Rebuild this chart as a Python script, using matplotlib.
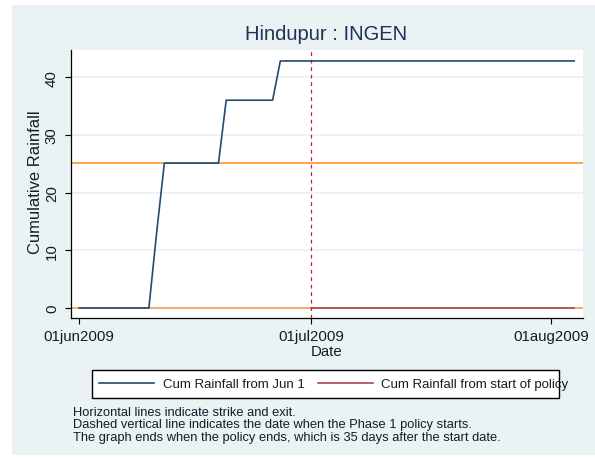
import numpy as np
import matplotlib
matplotlib.use("Agg")
import matplotlib.pyplot as plt
import matplotlib.dates as mdates
from matplotlib.patches import Rectangle

plt.rcParams['font.family'] = ['Liberation Sans', 'DejaVu Sans']

# data (corner points of the cumulative series)
rain_dates = ["2009-06-01", "2009-06-10", "2009-06-11", "2009-06-12", "2009-06-19",
              "2009-06-20", "2009-06-26", "2009-06-27", "2009-08-04"]
rain_cum = [0, 0, 13, 25.1, 25.1, 36, 36, 42.8, 42.8]

policy_dates = ["2009-07-01", "2009-08-04"]
policy_cum = [0, 0]

policy_start = "2009-07-01"
strike = 25.1
exit_level = 0

xtick_dates = ["2009-06-01", "2009-07-01", "2009-08-01"]
xtick_labels = ["01jun2009", "01jul2009", "01aug2009"]
yticks = [0, 10, 20, 30, 40]

notes = ["Horizontal lines indicate strike and exit.",
         "Dashed vertical line indicates the date when the Phase 1 policy starts.",
         "The graph ends when the policy ends, which is 35 days after the start date."]

bg = "#EAF2F3"
navy = "#22496F"
maroon = "#A5494E"
orange = "#FF8A14"
txt = "#141C2C"

to_dt = lambda lst: np.array(lst, dtype="datetime64[D]")

W, H = 595, 460
fig = plt.figure(figsize=(W / 100, H / 100), dpi=100)
fig.patch.set_facecolor("white")
fig.patches.append(Rectangle((12 / W, 4 / H), 1 - 12 / W, (456 - 6) / H,
                             transform=fig.transFigure, facecolor=bg,
                             edgecolor="none", zorder=-10))

ax = fig.add_axes([70.7 / W, 1 - 319.3 / H, 512 / W, 268.3 / H])
ax.set_facecolor("white")

for y in yticks:
    ax.axhline(y, color=bg, lw=1.3, zorder=0)

ax.axhline(strike, color=orange, lw=1.1, zorder=1)
ax.axhline(exit_level, color="#FA9A3C", lw=1.1, zorder=1)
ax.axvline(to_dt([policy_start])[0], color="#D8143A", lw=0.9, ls=(0, (3, 3)), zorder=2)

l1, = ax.plot(to_dt(rain_dates), rain_cum, color=navy, lw=1.2, zorder=3)
l2, = ax.plot(to_dt(policy_dates), policy_cum, color=maroon, lw=1.2, zorder=3)

d0 = to_dt(["2009-06-01"])[0]
ax.set_xlim(mdates.date2num(d0) - 1.11, mdates.date2num(d0) + 65.1)
ax.set_ylim(-1.79, 44.7)

ax.set_xticks(mdates.date2num(to_dt(xtick_dates)))
ax.set_xticklabels(xtick_labels)
ax.set_yticks(yticks)
ax.set_yticklabels([str(v) for v in yticks], rotation=90, va="center")
ax.tick_params(axis="both", direction="out", length=4, width=0.8, colors="black",
               labelcolor=txt, labelsize=10.8)
ax.tick_params(axis="x", pad=4)
ax.tick_params(axis="y", pad=4.5)

for s in ["top", "right"]:
    ax.spines[s].set_visible(False)
for s in ["left", "bottom"]:
    ax.spines[s].set_linewidth(0.9)
    ax.spines[s].set_color("black")

ax.set_xlabel("Date", fontsize=10.8, color=txt, va="center")
ax.xaxis.set_label_coords(0.5, -0.1208)
ax.set_ylabel("Cumulative Rainfall", fontsize=11.9, color=txt, va="center")
ax.yaxis.set_label_coords(-0.0697, 0.51)

fig.text(326.2 / W, 1 - 35 / H, "Hindupur : INGEN", ha="center", va="center",
         fontsize=14.5, color="#1E3158")

# legend: box drawn separately, label text runs past it as in the original
fig.patches.append(Rectangle((92.3 / W, 1 - 399.3 / H), (558.6 - 92.3) / W, 28.3 / H,
                             transform=fig.transFigure, facecolor="white",
                             edgecolor="black", lw=1.0, zorder=5))
leg = fig.legend([l1, l2], ["Cum Rainfall from Jun 1", "Cum Rainfall from start of policy"],
                 loc="center left", bbox_to_anchor=(99.3 / W, 1 - 385.2 / H), ncol=2,
                 frameon=False, fontsize=9.5, handlelength=4.15, handletextpad=0.66,
                 columnspacing=1.0, borderpad=0, borderaxespad=0)
leg.set_zorder(6)
for t in leg.get_texts():
    t.set_color(txt)

for i, line in enumerate(notes):
    fig.text(72.7 / W, 1 - (413.3 + 12.2 * i) / H, line, ha="left", va="center",
             fontsize=9.3, color=txt)

fig.savefig("out.png", dpi=100, facecolor=fig.get_facecolor())
